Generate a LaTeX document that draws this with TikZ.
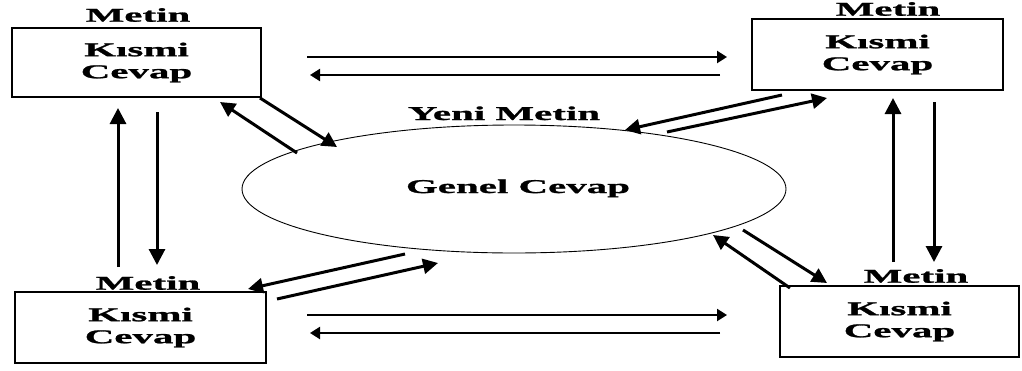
\documentclass[tikz,border=0pt]{standalone}
\usepackage{fontspec}
\setmainfont{Liberation Serif}[FakeStretch=2.1, BoldFeatures={FakeBold=1.3}]
\usetikzlibrary{arrows.meta,shapes.geometric}
\begin{document}
\begin{tikzpicture}[x=1pt,y=-1pt,
  txt/.style={font=\bfseries\fontsize{19.5}{22}\selectfont, inner sep=0pt},
  box/.style={draw, line width=1.3pt, inner sep=0pt, align=center, txt},
  harrow/.style={line width=2.2pt, -{Triangle[length=10pt,width=12pt]}},
  varrow/.style={line width=3pt, -{Triangle[length=16pt,width=16pt]}},
  darrow/.style={line width=3pt, -{Triangle[length=15pt,width=15pt]}},
]
\useasboundingbox (0,0) rectangle (1022,370);

% the four partial-answer boxes
\node[box, minimum width=249pt, minimum height=69pt] (tl) at (136.5,62.5) {Kısmi\\Cevap};
\node[box, minimum width=251pt, minimum height=71pt] (tr) at (877.5,54.5) {Kısmi\\Cevap};
\node[box, minimum width=251pt, minimum height=71pt] (bl) at (140.5,327.5) {Kısmi\\Cevap};
\node[box, minimum width=239pt, minimum height=71pt] (br) at (899.5,321.5) {Kısmi\\Cevap};

% their "Metin" labels
\node[txt] (mtl) at (138,15) {Metin};
\node[txt] (mtr) at (888,9) {Metin};
\node[txt] (mbl) at (148,283) {Metin};
\node[txt] (mbr) at (916,276) {Metin};

% central ellipse
\node[draw, ellipse, line width=0.9pt, minimum width=544pt, minimum height=128pt, inner sep=0pt] (gc) at (514,189) {};
\node[txt, anchor=base] (gct) at (518,193) {Genel Cevap};
\node[txt, anchor=base] (ym) at (504,120) {Yeni Metin};

% end points of the connectors
\coordinate (a1) at (307,57);  \coordinate (b1) at (727,57);
\coordinate (a2) at (720,75);  \coordinate (b2) at (310,75);
\coordinate (a3) at (307,315); \coordinate (b3) at (727,315);
\coordinate (a4) at (720,333); \coordinate (b4) at (310,333);

\coordinate (lu1) at (118,267); \coordinate (lu2) at (118,108);
\coordinate (ld1) at (157,112); \coordinate (ld2) at (157,265);
\coordinate (ru1) at (893,262); \coordinate (ru2) at (893,98);
\coordinate (rd1) at (934,102); \coordinate (rd2) at (934,262);

\coordinate (tla) at (260,98);  \coordinate (tlb) at (337,147);
\coordinate (tlc) at (297,153); \coordinate (tld) at (220,102);
\coordinate (tra) at (782,95);  \coordinate (trb) at (625,130);
\coordinate (trc) at (667,132); \coordinate (trd) at (827,98);
\coordinate (bla) at (405,254); \coordinate (blb) at (248,289);
\coordinate (blc) at (277,299); \coordinate (bld) at (438,263);
\coordinate (bra) at (790,288); \coordinate (brb) at (713,235);
\coordinate (brc) at (743,230); \coordinate (brd) at (827,283);

% horizontal pairs
\draw[harrow] (a1) -- (b1);
\draw[harrow] (a2) -- (b2);
\draw[harrow] (a3) -- (b3);
\draw[harrow] (a4) -- (b4);

% vertical pairs
\draw[varrow] (lu1) -- (lu2);
\draw[varrow] (ld1) -- (ld2);
\draw[varrow] (ru1) -- (ru2);
\draw[varrow] (rd1) -- (rd2);

% diagonal pairs to and from the ellipse
\draw[darrow] (tla) -- (tlb);
\draw[darrow] (tlc) -- (tld);
\draw[darrow] (tra) -- (trb);
\draw[darrow] (trc) -- (trd);
\draw[darrow] (bla) -- (blb);
\draw[darrow] (blc) -- (bld);
\draw[darrow] (bra) -- (brb);
\draw[darrow] (brc) -- (brd);
\end{tikzpicture}
\end{document}
